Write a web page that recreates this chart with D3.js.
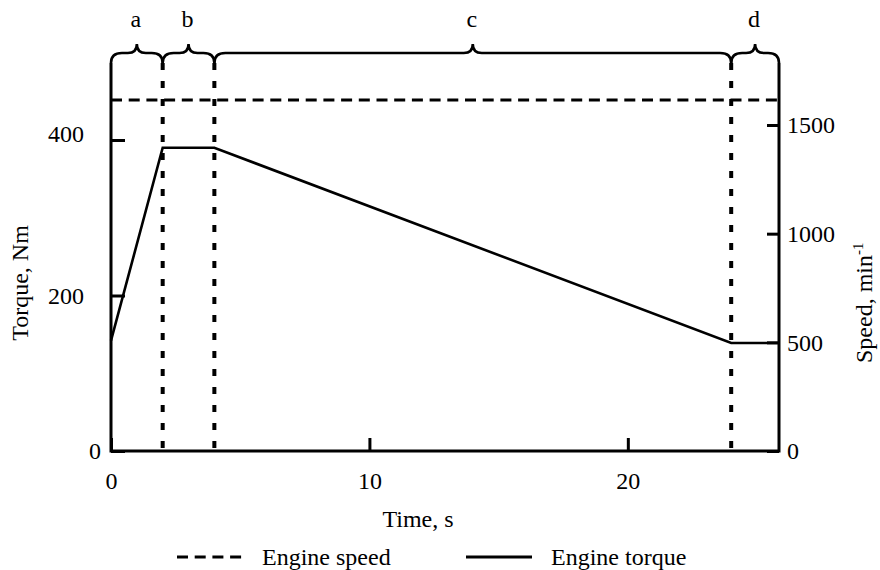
<!DOCTYPE html>
<html lang="en">
	<head>
		<meta charset="utf-8">
		<title>Engine torque and speed</title>
		<script type="text/javascript" src="https://cdn.jsdelivr.net/npm/d3@7/dist/d3.min.js"></script>
		<style>
			body { margin: 0; background: #fff; }
			text {
				font-family: "Liberation Serif", "Times New Roman", "DejaVu Serif", serif;
				font-size: 24px;
				fill: #000;
			}
			.axis path { display: none; }
			.axis line { stroke: #000; stroke-width: 3; }
		</style>
	</head>
	<body>
		<script type="text/javascript">
			// data
			var timeTicks = [0, 10, 20];
			var torqueTicks = [0, 200, 400];
			var speedTicks = [0, 500, 1000, 1500];
			var timeEnd = 25.85;

			var torqueTime = [0, 2, 4, 24, 25.85];
			var torqueValue = [142, 390, 390, 139, 139];

			var speedTime = [0, 25.85];
			var speedValue = [1615, 1615];

			var phaseBounds = [0, 2, 4, 24, 25.85];
			var phaseNames = ["a", "b", "c", "d"];

			var w = 880;
			var h = 570;
			var left = 111, right = 779, bottom = 451;
			var braceY = 53;

			var svg = d3.select("body")
						.append("svg")
						.attr("width", w)
						.attr("height", h);

			var xScale = d3.scaleLinear()
						   .domain([0, timeEnd])
						   .range([left, right]);
			var yTorque = d3.scaleLinear()
							.domain([0, 400])
							.range([bottom, 140]);
			var ySpeed = d3.scaleLinear()
						   .domain([0, 1500])
						   .range([bottom, 125]);

			// phase boundaries (dotted)
			svg.selectAll(".phase")
			   .data(phaseBounds.slice(1, 4))
			   .enter()
			   .append("line")
			   .attr("x1", function(d) { return xScale(d); })
			   .attr("x2", function(d) { return xScale(d); })
			   .attr("y1", braceY + 10)
			   .attr("y2", bottom)
			   .attr("stroke", "#000")
			   .attr("stroke-width", 4)
			   .attr("stroke-dasharray", "7,11");

			// engine speed
			var speedLine = d3.line()
							  .x(function(d, i) { return xScale(speedTime[i]); })
							  .y(function(d) { return ySpeed(d); });
			svg.append("path")
			   .attr("d", speedLine(speedValue))
			   .attr("fill", "none")
			   .attr("stroke", "#000")
			   .attr("stroke-width", 3)
			   .attr("stroke-dasharray", "11,6.7");

			// engine torque
			var torqueLine = d3.line()
							   .x(function(d, i) { return xScale(torqueTime[i]); })
							   .y(function(d) { return yTorque(d); });
			svg.append("path")
			   .attr("d", torqueLine(torqueValue))
			   .attr("fill", "none")
			   .attr("stroke", "#000")
			   .attr("stroke-width", 2.6);

			// frame: axes joined to the braces
			svg.append("path")
			   .attr("d", "M" + left + "," + (braceY + 10) + "V" + bottom + "H" + right + "V" + (braceY + 10))
			   .attr("fill", "none")
			   .attr("stroke", "#000")
			   .attr("stroke-width", 3);

			// braces
			function brace(x0, x1) {
				var m = (x0 + x1) / 2, r = 11, t = 9;
				return "M" + x0 + "," + (braceY + 10) +
					   "Q" + x0 + "," + braceY + " " + (x0 + r) + "," + braceY +
					   "L" + (m - t) + "," + braceY +
					   "Q" + m + "," + braceY + " " + m + "," + (braceY - 9) +
					   "Q" + m + "," + braceY + " " + (m + t) + "," + braceY +
					   "L" + (x1 - r) + "," + braceY +
					   "Q" + x1 + "," + braceY + " " + x1 + "," + (braceY + 10);
			}
			svg.selectAll(".brace")
			   .data(phaseNames)
			   .enter()
			   .append("path")
			   .attr("d", function(d, i) { return brace(xScale(phaseBounds[i]), xScale(phaseBounds[i + 1])); })
			   .attr("fill", "none")
			   .attr("stroke", "#000")
			   .attr("stroke-width", 2.6);

			svg.selectAll(".phaseName")
			   .data(phaseNames)
			   .enter()
			   .append("text")
			   .text(function(d) { return d; })
			   .attr("x", function(d, i) { return (xScale(phaseBounds[i]) + xScale(phaseBounds[i + 1])) / 2 - 1; })
			   .attr("y", 27)
			   .attr("text-anchor", "middle");

			// x axis
			var xAxis = d3.axisBottom(xScale)
						  .tickValues(timeTicks)
						  .tickSize(-13)
						  .tickPadding(21)
						  .tickFormat(d3.format("d"));
			svg.append("g")
			   .attr("class", "axis")
			   .attr("transform", "translate(0," + bottom + ")")
			   .call(xAxis);

			// left axis
			var yAxis = d3.axisLeft(yTorque)
						  .tickValues(torqueTicks)
						  .tickSize(-14)
						  .tickPadding(27)
						  .tickFormat(d3.format("d"));
			var gLeft = svg.append("g")
						   .attr("class", "axis")
						   .attr("transform", "translate(" + left + ",0)")
						   .call(yAxis);
			gLeft.selectAll(".tick")
				 .filter(function(d) { return d === 0; })
				 .select("text")
				 .attr("x", -10);
			gLeft.selectAll(".tick")
				 .filter(function(d) { return d === 400; })
				 .select("text")
				 .attr("dy", "0.08em");

			// right axis
			var sAxis = d3.axisRight(ySpeed)
						  .tickValues(speedTicks)
						  .tickSize(-12)
						  .tickPadding(8)
						  .tickFormat(d3.format("d"));
			svg.append("g")
			   .attr("class", "axis")
			   .attr("transform", "translate(" + right + ",0)")
			   .call(sAxis);

			svg.selectAll(".axis")
			   .attr("font-family", null)
			   .attr("font-size", null);

			// axis titles
			svg.append("text")
			   .attr("x", 418)
			   .attr("y", 527)
			   .attr("text-anchor", "middle")
			   .text("Time, s");

			svg.append("text")
			   .attr("transform", "translate(28,283) rotate(-90)")
			   .attr("text-anchor", "middle")
			   .text("Torque, Nm");

			var sp = svg.append("text")
						.attr("transform", "translate(872,363) rotate(-90)")
						.attr("text-anchor", "start");
			sp.append("tspan").text("Speed, min");
			sp.append("tspan")
			  .attr("dy", -9)
			  .style("font-size", "15px")
			  .text("-1");

			// legend
			var legend = [
				{ name: "Engine speed", dash: "11,6.7", x: 177 },
				{ name: "Engine torque", dash: null, x: 466 }
			];
			var lg = svg.selectAll(".legend")
						.data(legend)
						.enter()
						.append("g")
						.attr("transform", function(d) { return "translate(" + d.x + ",557)"; });
			lg.append("line")
			  .attr("x1", 0)
			  .attr("x2", 66)
			  .attr("stroke", "#000")
			  .attr("stroke-width", 3)
			  .attr("stroke-dasharray", function(d) { return d.dash; });
			lg.append("text")
			  .attr("x", 85)
			  .attr("y", 8)
			  .text(function(d) { return d.name; });
		</script>
	</body>
</html>
